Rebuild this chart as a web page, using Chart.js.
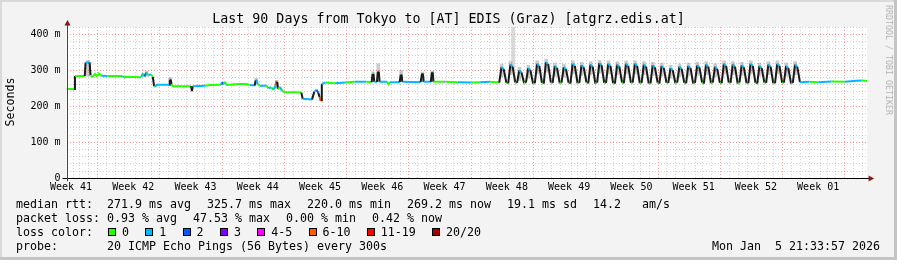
<!DOCTYPE html>
<html>
<head>
<meta charset="utf-8">
<title>Last 90 Days from Tokyo to [AT] EDIS (Graz)</title>
<script src="https://cdn.jsdelivr.net/npm/chart.js@4.4.1/dist/chart.umd.min.js"></script>
<style>
  html, body { margin: 0; padding: 0; background: #f3f3f3; }
  #wrap { position: relative; width: 897px; height: 260px; background: #f3f3f3; overflow: hidden;
          font-family: 'DejaVu Sans Mono', monospace; color: #000; }
  #wrap canvas { position: absolute; left: 0; top: 0; }
  .txt { position: absolute; white-space: pre; line-height: 14px; font-size: 11.63px; }
  .box { position: absolute; width: 8px; height: 8px; box-sizing: border-box; border: 1px solid #000; }
  .shade { position: absolute; }
  #title { position: absolute; left: 0; top: 11px; width: 897px; text-align: center;
           font-size: 13.3px; line-height: 16px; white-space: pre; }
  #ytitle { position: absolute; left: 10px; top: 102px; font-size: 11.63px; line-height: 14px;
            transform: translate(-50%, -50%) rotate(-90deg); white-space: pre; }
  #mark { position: absolute; left: 888.5px; top: 60px; font-size: 8.3px; line-height: 10px; color: #b4b4b4;
          transform: translate(-50%, -50%) rotate(90deg); white-space: pre; }
</style>
</head>
<body>
<div id="wrap">
  <canvas id="c" width="897" height="260"></canvas>
  <div class="shade" style="left:0;top:0;width:897px;height:2px;background:#dadada"></div>
  <div class="shade" style="left:0;top:0;width:2px;height:260px;background:#dadada"></div>
  <div class="shade" style="left:894px;top:0;width:3px;height:260px;background:#c4c4c4"></div>
  <div class="shade" style="left:0;top:257px;width:897px;height:3px;background:#c4c4c4"></div>
  <div id="title"></div>
  <div id="ytitle"></div>
  <div id="mark"></div>
</div>
<script>
(function () {
  'use strict';

  // ── Data ──
  const titleText = 'Last 90 Days from Tokyo to [AT] EDIS (Graz) [atgrz.edis.at]';
  const yTitle = 'Seconds';
  const watermark = 'RRDTOOL / TOBI OETIKER';

  const weekLabels = ['Week 41', 'Week 42', 'Week 43', 'Week 44', 'Week 45', 'Week 46', 'Week 47',
                      'Week 48', 'Week 49', 'Week 50', 'Week 51', 'Week 52', 'Week 01'];

  const lossLabels = ['0', '1', '2', '3', '4-5', '6-10', '11-19', '20/20'];
  const lossColors = ['#26ff00', '#00b8ff', '#0059ff', '#7e00ff', '#ff00ff', '#ff5a00', '#ff0000', '#a00000'];

  // median rtt: [day, ms, loss class]
  const medianPts = [
    [0.0, 248, 0], [0.85, 248, 0], [0.95, 284, 0], [2.05, 284, 0], [2.15, 322, 1], [2.6, 322, 1],
    [2.7, 286, 0], [2.95, 282, 0], [3.2, 290, 0], [3.4, 284, 0], [3.65, 291, 0], [3.9, 285, 0],
    [4.6, 284, 1], [5.1, 284, 0], [6.3, 284, 0], [6.45, 280, 1], [6.6, 282, 0], [8.4, 281, 0],
    [8.6, 292, 1], [8.75, 283, 0], [9.0, 294, 2], [9.2, 286, 0], [9.5, 289, 1], [9.7, 282, 0],
    [9.85, 256, 1], [9.95, 254, 0], [10.15, 260, 1], [11.55, 260, 1], [11.62, 274, 2], [11.72, 274, 2],
    [11.8, 262, 0], [11.95, 256, 0], [14.0, 256, 0], [14.1, 242, 1], [14.2, 256, 0], [15.6, 257, 1],
    [16.1, 259, 0], [17.35, 260, 0], [17.5, 267, 1], [17.65, 261, 2], [17.8, 268, 1], [18.0, 259, 0],
    [19.3, 262, 0], [20.2, 262, 0], [20.6, 259, 0], [21.15, 258, 1], [21.28, 272, 2], [21.38, 272, 2],
    [21.5, 262, 1], [21.7, 257, 0], [22.5, 257, 1], [22.7, 250, 0], [23.0, 253, 1], [23.25, 246, 0],
    [23.5, 258, 1], [23.58, 268, 5], [23.68, 268, 5], [23.78, 248, 1], [24.0, 254, 0], [24.2, 244, 1],
    [24.45, 240, 0], [26.4, 238, 0], [26.55, 221, 1], [27.6, 219, 1], [27.85, 240, 0], [28.1, 246, 1],
    [28.3, 238, 2], [28.45, 226, 1], [28.55, 217, 5], [28.62, 217, 5], [28.7, 262, 1], [29.1, 266, 1],
    [30.2, 264, 0], [31.3, 266, 1], [32.4, 268, 0], [33.7, 268, 1], [34.3, 267, 0], [34.42, 290, 1],
    [34.5, 290, 1], [34.6, 268, 0], [34.9, 268, 1], [35.0, 296, 6], [35.1, 296, 6], [35.2, 268, 0],
    [36.05, 268, 1], [36.2, 261, 0], [36.35, 267, 0], [37.45, 267, 1], [37.58, 288, 1], [37.66, 288, 1],
    [37.75, 268, 0], [39.8, 267, 1], [39.98, 291, 1], [40.06, 291, 1], [40.15, 268, 0], [40.95, 268, 1],
    [41.08, 294, 1], [41.16, 294, 1], [41.25, 268, 0], [42.4, 268, 0], [42.5, 268, 4], [42.6, 268, 1],
    [44.0, 267, 0], [45.5, 266, 1], [46.5, 267, 0], [47.6, 268, 1], [48.4, 267, 0],
    [48.65, 266, 0], [48.9, 309, 1], [49.15, 303, 1], [49.45, 265, 0],
    [49.65, 264, 0], [49.9, 316, 1], [50.15, 310, 1], [50.45, 266, 0],
    [50.65, 265, 0], [50.9, 300, 1], [51.15, 294, 1], [51.45, 264, 0],
    [51.65, 266, 0], [51.9, 306, 1], [52.15, 300, 1], [52.45, 263, 0],
    [52.65, 264, 0], [52.9, 318, 1], [53.15, 312, 1], [53.45, 265, 0],
    [53.65, 263, 0], [53.9, 323, 1], [54.15, 317, 1], [54.45, 266, 0],
    [54.65, 265, 0], [54.9, 312, 1], [55.15, 306, 1], [55.45, 264, 0],
    [55.65, 266, 0], [55.9, 309, 1], [56.15, 303, 1], [56.45, 265, 0],
    [56.65, 263, 0], [56.9, 318, 1], [57.15, 312, 1], [57.45, 264, 0],
    [57.65, 265, 0], [57.9, 314, 1], [58.15, 308, 1], [58.45, 266, 0],
    [58.65, 264, 0], [58.9, 316, 1], [59.15, 310, 1], [59.45, 263, 0],
    [59.65, 266, 0], [59.9, 320, 1], [60.15, 314, 1], [60.45, 265, 0],
    [60.65, 265, 0], [60.9, 318, 1], [61.15, 312, 1], [61.45, 264, 0],
    [61.65, 263, 0], [61.9, 316, 1], [62.15, 310, 1], [62.45, 266, 0],
    [62.65, 264, 0], [62.9, 318, 1], [63.15, 312, 1], [63.45, 265, 0],
    [63.65, 266, 0], [63.9, 318, 1], [64.15, 312, 1], [64.45, 264, 0],
    [64.65, 265, 0], [64.9, 316, 1], [65.15, 310, 1], [65.45, 263, 0],
    [65.65, 264, 0], [65.9, 314, 1], [66.15, 308, 1], [66.45, 266, 0],
    [66.65, 263, 0], [66.9, 312, 1], [67.15, 306, 1], [67.45, 265, 0],
    [67.65, 265, 0], [67.9, 306, 1], [68.15, 300, 1], [68.45, 264, 0],
    [68.65, 266, 0], [68.9, 310, 1], [69.15, 304, 1], [69.45, 265, 0],
    [69.65, 264, 0], [69.9, 312, 1], [70.15, 306, 1], [70.45, 263, 0],
    [70.65, 265, 0], [70.9, 314, 1], [71.15, 308, 1], [71.45, 266, 0],
    [71.65, 263, 0], [71.9, 316, 1], [72.15, 310, 1], [72.45, 264, 0],
    [72.65, 266, 0], [72.9, 310, 1], [73.15, 304, 1], [73.45, 265, 0],
    [73.65, 264, 0], [73.9, 318, 1], [74.15, 312, 1], [74.45, 266, 0],
    [74.65, 265, 0], [74.9, 316, 1], [75.15, 310, 1], [75.45, 263, 0],
    [75.65, 266, 0], [75.9, 314, 1], [76.15, 308, 1], [76.45, 264, 0],
    [76.65, 264, 0], [76.9, 318, 1], [77.15, 312, 1], [77.45, 265, 0],
    [77.65, 263, 0], [77.9, 312, 1], [78.15, 306, 1], [78.45, 266, 0],
    [78.65, 265, 0], [78.9, 316, 1], [79.15, 310, 1], [79.45, 264, 0],
    [79.65, 264, 0], [79.9, 318, 1], [80.15, 312, 1], [80.45, 265, 0],
    [80.65, 266, 0], [80.9, 312, 1], [81.15, 306, 1], [81.45, 263, 0],
    [81.65, 265, 0], [81.9, 316, 1], [82.15, 310, 1], [82.45, 267, 0],
    [83.5, 268, 1], [84.5, 267, 0], [86.0, 269, 1], [87.5, 268, 0], [88.8, 271, 1], [89.4, 272, 1],
    [90.0, 270, 0]
  ];

  // smoke (ping spread) around the median
  const smokeDays = [2.4, 9.0, 11.67, 21.33, 23.63, 34.46, 35.05, 37.62, 40.02, 41.12, 50.2,
    48.92, 49.92, 50.92, 51.92, 52.92, 53.92, 54.92, 55.92, 56.92, 57.92, 58.92, 59.92, 60.92, 61.92,
    62.92, 63.92, 64.92, 65.92, 66.92, 67.92, 68.92, 69.92, 70.92, 71.92, 72.92, 73.92, 74.92, 75.92,
    76.92, 77.92, 78.92, 79.92, 80.92, 81.92];
  const smokeLo = [284, 283, 262, 262, 250, 268, 268, 268, 268, 268, 300,
    281, 288, 272, 278, 290, 295, 284, 281, 290, 286, 288, 292, 290, 288,
    290, 290, 288, 286, 284, 278, 282, 284, 286, 288, 282, 290, 288, 286,
    290, 284, 288, 290, 284, 288];
  const smokeHi = [328, 298, 280, 278, 272, 296, 318, 300, 295, 298, 430,
    317, 324, 308, 314, 326, 331, 320, 317, 326, 322, 324, 328, 326, 324,
    326, 326, 324, 322, 320, 314, 318, 320, 322, 324, 318, 326, 324, 322,
    326, 320, 324, 326, 320, 324];

  const legendMedian = ['median rtt:  271.9 ms avg', '325.7 ms max', '220.0 ms min', '269.2 ms now', '19.1 ms sd', '14.2   am/s'];
  const legendLoss = ['packet loss: 0.93 % avg', '47.53 % max', '0.00 % min', '0.42 % now'];
  const probeLabel = 'probe:';
  const probeText = '20 ICMP Echo Pings (56 Bytes) every 300s';
  const stampText = 'Mon Jan  5 21:33:57 2026';

  // ── Layout ──
  const W = 897, H = 260;
  const PLOT_LEFT = 66.5, PLOT_RIGHT = 867.1, PLOT_TOP = 27.1, PLOT_BOTTOM = 178.3;
  const CH = 7.0, GAP = 16;
  const wrap = document.getElementById('wrap');

  document.getElementById('title').textContent = titleText;
  document.getElementById('ytitle').textContent = yTitle;
  document.getElementById('mark').textContent = watermark;

  function addText(x, yc, str) {
    const d = document.createElement('div');
    d.className = 'txt';
    d.style.left = x + 'px';
    d.style.top = (yc - 7) + 'px';
    d.textContent = str;
    wrap.appendChild(d);
    return d;
  }

  function legendRow(items, yc) {
    let x = 16;
    items.forEach(s => { addText(x, yc, s); x += s.length * CH + GAP; });
  }

  legendRow(legendMedian, 204);
  legendRow(legendLoss, 218.3);

  addText(16, 231.7, 'loss color:');
  let bx = 108;
  lossLabels.forEach((lab, i) => {
    const b = document.createElement('div');
    b.className = 'box';
    b.style.left = bx + 'px';
    b.style.top = (231.7 - 4) + 'px';
    b.style.background = lossColors[i];
    wrap.appendChild(b);
    addText(bx + 14, 231.7, lab);
    bx += 14 + lab.length * CH + 16.3;
  });

  addText(16, 246, probeLabel);
  addText(107, 246, probeText);
  const st = addText(0, 246, stampText);
  st.style.left = (880 - stampText.length * CH) + 'px';

  // ── Chart.js ──
  Chart.defaults.font.family = "'DejaVu Sans Mono', monospace";
  Chart.defaults.color = '#000';

  const weekLineDays = [];
  for (let d = 4; d < 90; d += 7) weekLineDays.push(d);
  const weekLabelDays = weekLabels.map((_, j) => 0.5 + 7 * j);
  const xTicks = [];
  for (let d = 1; d < 90; d++) xTicks.push(d);
  weekLabelDays.forEach(v => xTicks.push(v));
  xTicks.sort((a, b) => a - b);

  const plotBg = {
    id: 'plotBg',
    beforeDraw(chart) {
      const { ctx, chartArea: a } = chart;
      ctx.save();
      ctx.fillStyle = '#ffffff';
      ctx.fillRect(a.left, a.top, a.right - a.left, a.bottom - a.top);
      ctx.restore();
    }
  };

  const axesArrows = {
    id: 'axesArrows',
    afterDraw(chart) {
      const { ctx, chartArea: a } = chart;
      const yb = Math.round(a.bottom) + 0.5;
      const xl = Math.round(a.left) + 0.5;
      ctx.save();
      ctx.lineWidth = 1;
      ctx.strokeStyle = '#000';
      ctx.beginPath();
      ctx.moveTo(a.left - 4, yb);
      ctx.lineTo(a.right + 2, yb);
      ctx.stroke();
      ctx.strokeStyle = '#444';
      ctx.beginPath();
      ctx.moveTo(xl, a.bottom + 3);
      ctx.lineTo(xl, a.top - 2);
      ctx.stroke();
      ctx.fillStyle = '#8e1414';
      ctx.beginPath();
      ctx.moveTo(a.right + 1.5, yb - 3);
      ctx.lineTo(a.right + 1.5, yb + 3);
      ctx.lineTo(a.right + 7, yb);
      ctx.closePath();
      ctx.fill();
      ctx.beginPath();
      ctx.moveTo(xl - 3, a.top - 1.5);
      ctx.lineTo(xl + 3, a.top - 1.5);
      ctx.lineTo(xl, a.top - 7);
      ctx.closePath();
      ctx.fill();
      ctx.restore();
    }
  };

  new Chart(document.getElementById('c'), {
    type: 'line',
    data: {
      datasets: [
        {
          type: 'line',
          data: medianPts.map(p => ({ x: p[0], y: p[1] })),
          borderWidth: 2,
          borderColor: lossColors[0],
          pointRadius: 0,
          tension: 0,
          order: 0,
          segment: {
            borderColor: c => {
              const dx = Math.abs(c.p1.x - c.p0.x);
              const dy = Math.abs(c.p1.y - c.p0.y);
              if (dy > 4 && dy > 2 * dx) return '#1a1a1a';
              return lossColors[medianPts[c.p1DataIndex][2]];
            }
          }
        },
        {
          type: 'bar',
          data: smokeDays.map((d, i) => ({ x: d, y: [smokeLo[i], smokeHi[i]] })),
          barThickness: 3,
          backgroundColor: c => (smokeHi[c.dataIndex] - smokeLo[c.dataIndex] > 90 ? 'rgba(200,200,200,0.7)' : 'rgba(110,110,110,0.35)'),
          borderWidth: 0,
          order: 1
        }
      ]
    },
    options: {
      responsive: false,
      animation: false,
      events: [],
      layout: { padding: { left: 0, top: PLOT_TOP, right: W - PLOT_RIGHT, bottom: H - PLOT_BOTTOM - 20 } },
      plugins: { legend: { display: false }, tooltip: { enabled: false }, title: { display: false } },
      scales: {
        x: {
          type: 'linear',
          min: 0,
          max: 90,
          offset: false,
          afterFit: s => { s.height = 20; },
          afterBuildTicks: s => { s.ticks = xTicks.map(v => ({ value: v })); },
          grid: {
            drawTicks: false,
            lineWidth: 1,
            color: c => {
              const v = c.tick ? c.tick.value : 0;
              if (weekLabelDays.includes(v)) return 'rgba(0,0,0,0)';
              if (weekLineDays.includes(v)) return 'rgba(240,110,110,0.7)';
              return 'rgba(170,170,170,0.55)';
            }
          },
          border: { display: false, dash: [1, 2] },
          ticks: {
            autoSkip: false,
            maxRotation: 0,
            minRotation: 0,
            padding: 3,
            font: { size: 10 },
            color: '#000',
            callback: v => {
              const j = weekLabelDays.indexOf(v);
              return j >= 0 ? weekLabels[j] : '';
            }
          }
        },
        y: {
          min: 0,
          max: 420,
          afterFit: s => { s.width = PLOT_LEFT; },
          grid: {
            drawTicks: false,
            lineWidth: 1,
            color: c => ((c.tick && c.tick.value % 100 === 0) ? 'rgba(240,110,110,0.7)' : 'rgba(170,170,170,0.55)')
          },
          border: { display: false, dash: [1, 2] },
          ticks: {
            stepSize: 20,
            autoSkip: false,
            padding: 6,
            font: { size: 10 },
            color: '#000',
            callback: v => (v % 100 === 0 ? (v === 0 ? '0' : v + ' m') : '')
          }
        }
      }
    },
    plugins: [plotBg, axesArrows]
  });
})();
</script>
</body>
</html>
